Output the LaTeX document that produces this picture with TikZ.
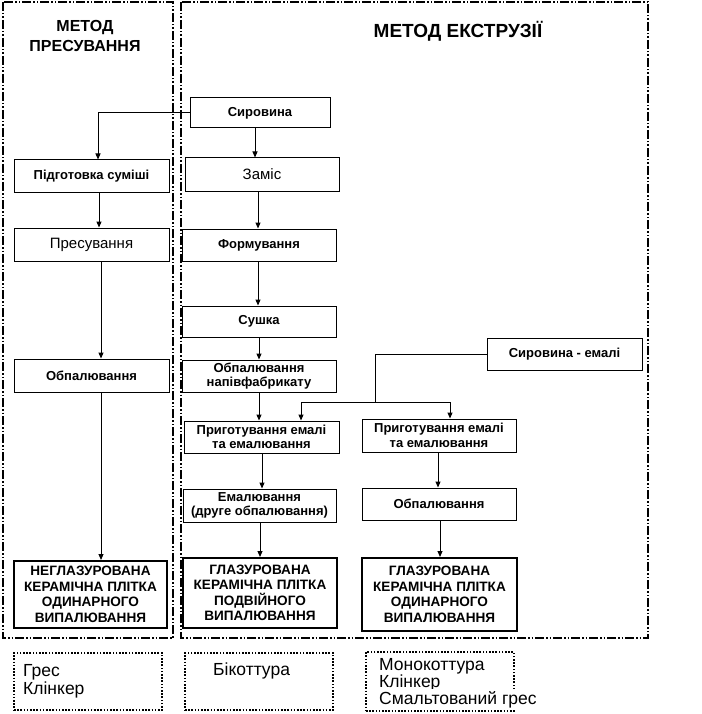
\documentclass[tikz,border=0pt]{standalone}
\usepackage{fontspec}
\setmainfont{Liberation Sans}
\usetikzlibrary{arrows.meta}
\begin{document}
\begin{tikzpicture}[x=1pt,y=-1pt,
  frame/.style={line width=1.8pt, dash pattern=on 9pt off 2pt on 1.5pt off 2pt on 1.5pt off 2pt},
  box/.style={draw, line width=1pt, inner sep=0pt, align=center, font=\fontsize{13}{14.5}\selectfont\bfseries},
  lightbox/.style={box, font=\fontsize{15}{16}\selectfont},
  resbox/.style={draw, line width=2pt, inner sep=0pt, align=center, font=\fontsize{13.6}{15.5}\selectfont\bfseries},
  dotbox/.style={draw, line width=1.6pt, dash pattern=on 1.6pt off 1.6pt, inner sep=0pt},
  note/.style={anchor=base west, inner sep=0pt, font=\fontsize{17.5}{18}\selectfont},
  title/.style={align=center, inner sep=0pt, font=\fontsize{16}{20}\selectfont\bfseries},
  arr/.style={-{Triangle[length=6pt,width=5pt]}, line width=1pt}]
\useasboundingbox (0,0) rectangle (701,714);
% frames
\draw[frame] (3,2) rectangle (173,638);
\draw[frame] (181,2) rectangle (648,638);
% titles
\node[title] (t1) at (85,36) {МЕТОД\\ПРЕСУВАННЯ};
\node[title, font=\fontsize{19}{20}\selectfont\bfseries] (t2) at (458,31) {МЕТОД ЕКСТРУЗІЇ};
% boxes
\node[box, minimum width=140pt, minimum height=30pt] (syr) at (260,113) {Сировина};
\node[box, minimum width=155pt, minimum height=32pt] (pidg) at (91.5,176) {Підготовка суміші};
\node[lightbox, minimum width=154pt, minimum height=33pt] (zamis) at (262,174.5) {Заміс};
\node[lightbox, minimum width=155pt, minimum height=33pt] (pres) at (91.5,244.5) {Пресування};
\node[box, minimum width=154pt, minimum height=32pt] (form) at (259,245) {Формування};
\node[box, minimum width=154pt, minimum height=31pt] (sushka) at (259,321.5) {Сушка};
\node[box, minimum width=155pt, minimum height=33pt] (obpL) at (91.5,375.5) {Обпалювання};
\node[box, minimum width=154pt, minimum height=32pt] (obpN) at (259,376) {Обпалювання\\напівфабрикату};
\node[box, minimum width=155pt, minimum height=32pt] (syrE) at (564.5,354) {Сировина - емалі};
\node[box, minimum width=155pt, minimum height=32pt] (prigM) at (261.5,437) {Приготування емалі\\ та емалювання};
\node[box, minimum width=154pt, minimum height=33pt] (prigR) at (439,435.5) {Приготування емалі\\ та емалювання};
\node[box, minimum width=153pt, minimum height=33pt] (emal) at (259.5,505.5) {Емалювання\\(друге обпалювання)};
\node[box, minimum width=154pt, minimum height=32pt] (obpR) at (439,504) {Обпалювання};
\node[resbox, minimum width=153pt, minimum height=67pt] (resL) at (90.5,594.5) {НЕГЛАЗУРОВАНА\\КЕРАМІЧНА ПЛІТКА\\ОДИНАРНОГО\\ВИПАЛЮВАННЯ};
\node[resbox, minimum width=154pt, minimum height=70pt] (resM) at (260,593) {ГЛАЗУРОВАНА\\КЕРАМІЧНА ПЛІТКА\\ПОДВІЙНОГО\\ВИПАЛЮВАННЯ};
\node[resbox, minimum width=155pt, minimum height=73pt] (resR) at (439.5,594.5) {ГЛАЗУРОВАНА\\КЕРАМІЧНА ПЛІТКА\\ОДИНАРНОГО\\ВИПАЛЮВАННЯ};
% dotted boxes
\node[dotbox, minimum width=148pt, minimum height=57pt] (dL) at (88,681.5) {};
\node[dotbox, minimum width=148pt, minimum height=57pt] (dM) at (259,681.5) {};
\node[dotbox, minimum width=148pt, minimum height=59pt] (dR) at (440,681.5) {};
\node[note] (n1) at (23,676) {Грес};
\node[note] (n2) at (23,694) {Клінкер};
\node[note] (n3) at (213,675) {Бікоттура};
\node[note] (n4) at (379,670) {Монокоттура};
\node[note] (n5) at (379,687) {Клінкер};
\node[note, fill=white, inner ysep=2pt] (n6) at (379,704) {Смальтований грес};
% connectors
\draw[arr] (syr.west) -| (pidg.north -| 98,0);
\draw[arr] (syr.south -| 255,0) -- (zamis.north -| 255,0);
\draw[arr] (pidg.south -| 99,0) -- (pres.north -| 99,0);
\draw[arr] (zamis.south -| 258,0) -- (form.north -| 258,0);
\draw[arr] (pres.south -| 101,0) -- (obpL.north -| 101,0);
\draw[arr] (form.south -| 258,0) -- (sushka.north -| 258,0);
\draw[arr] (sushka.south -| 259,0) -- (obpN.north -| 259,0);
\draw[arr] (obpL.south -| 101,0) -- (resL.north -| 101,0);
\draw[arr] (obpN.south -| 259,0) -- (prigM.north -| 259,0);
\coordinate (j) at (375,402);
\draw[line width=1pt] (syrE.west) -| (j);
\draw[arr] (j) -| (prigR.north -| 450,0);
\draw[arr] (j) -| (prigM.north -| 301,0);
\draw[arr] (prigM.south -| 262,0) -- (emal.north -| 262,0);
\draw[arr] (emal.south -| 260,0) -- (resM.north -| 260,0);
\draw[arr] (prigR.south -| 438,0) -- (obpR.north -| 438,0);
\draw[arr] (obpR.south -| 440,0) -- (resR.north -| 440,0);
\end{tikzpicture}
\end{document}
